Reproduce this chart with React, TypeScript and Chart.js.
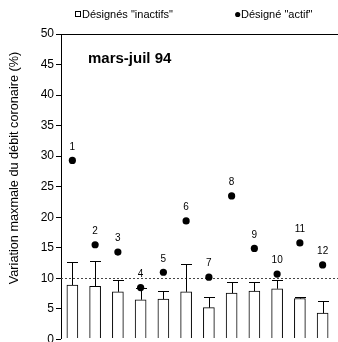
import { useEffect, useRef } from 'react';
import { Chart, registerables } from 'chart.js';

Chart.register(...registerables);

const categories = ['1', '2', '3', '4', '5', '6', '7', '8', '9', '10', '11', '12'];
const inactifMeans = [8.9, 8.7, 7.8, 6.5, 6.6, 7.8, 5.2, 7.6, 7.9, 8.3, 6.7, 4.3];
const inactifErrors = [3.8, 4.2, 2.0, 1.9, 1.3, 4.6, 1.7, 1.8, 1.5, 1.5, 0.2, 2.0];
const actifValues = [29.3, 15.5, 14.3, 8.5, 11.0, 19.4, 10.2, 23.5, 14.9, 10.7, 15.8, 12.2];
const referenceLevel = 10.1;
const yTickValues = [0, 5, 10, 15, 20, 25, 30, 35, 40, 45, 50];
const legendLabels = ['Désignés "inactifs"', 'Désigné "actif"'];
const periodTitle = 'mars-juil 94';
const yAxisTitle = 'Variation maxmale du débit coronaire (%)';

const FONT = "Arial, 'Liberation Sans', sans-serif";

const overlayPlugin = {
  id: 'overlay',
  beforeDatasetsDraw(chart: any) {
    const { ctx, chartArea, scales } = chart;
    const py = Math.round(scales.y.getPixelForValue(referenceLevel)) + 0.5;
    ctx.save();
    ctx.strokeStyle = '#444';
    ctx.lineWidth = 1;
    ctx.setLineDash([2, 2]);
    ctx.beginPath();
    ctx.moveTo(chartArea.left, py);
    ctx.lineTo(chart.width, py);
    ctx.stroke();
    ctx.restore();
  },
  afterDatasetDraw(chart: any, args: any) {
    if (args.index !== 0) return;
    const { ctx, scales } = chart;
    const meta = chart.getDatasetMeta(0);
    ctx.save();
    ctx.strokeStyle = '#000';
    ctx.lineWidth = 1;
    meta.data.forEach((bar: any, i: number) => {
      const x = Math.round(bar.x) + 0.5;
      const top = scales.y.getPixelForValue(inactifMeans[i]);
      const end = Math.round(scales.y.getPixelForValue(inactifMeans[i] + inactifErrors[i])) + 0.5;
      ctx.beginPath();
      ctx.moveTo(x, top);
      ctx.lineTo(x, end);
      ctx.moveTo(x - 5.5, end);
      ctx.lineTo(x + 5.5, end);
      ctx.stroke();
    });
    ctx.restore();
  },
  afterDatasetsDraw(chart: any) {
    const { ctx } = chart;
    const meta = chart.getDatasetMeta(1);
    ctx.save();
    ctx.fillStyle = '#000';
    ctx.font = `10px ${FONT}`;
    ctx.textAlign = 'center';
    ctx.textBaseline = 'middle';
    meta.data.forEach((pt: any, i: number) => {
      ctx.fillText(categories[i], pt.x, pt.y - 13.5);
    });
    ctx.restore();
  },
  afterDraw(chart: any) {
    const { ctx, chartArea } = chart;
    ctx.save();
    // top frame line
    ctx.strokeStyle = '#000';
    ctx.lineWidth = 1;
    ctx.beginPath();
    ctx.moveTo(chartArea.left, chartArea.top + 0.5);
    ctx.lineTo(chart.width, chartArea.top + 0.5);
    ctx.stroke();

    // legend
    ctx.fillStyle = '#000';
    ctx.font = `11px ${FONT}`;
    ctx.textBaseline = 'middle';
    ctx.textAlign = 'left';
    ctx.strokeRect(75.5, 11.5, 5, 5);
    ctx.fillText(legendLabels[0], 82, 14.5);
    ctx.beginPath();
    ctx.arc(237.7, 14.5, 2.6, 0, Math.PI * 2);
    ctx.fill();
    ctx.fillText(legendLabels[1], 241, 14.5);

    // period title
    ctx.font = `bold 15px ${FONT}`;
    ctx.textBaseline = 'alphabetic';
    ctx.fillText(periodTitle, 88, 63);

    // y axis title
    ctx.font = `12.7px ${FONT}`;
    ctx.textAlign = 'center';
    ctx.textBaseline = 'middle';
    ctx.translate(14.5, 168);
    ctx.rotate(-Math.PI / 2);
    ctx.fillText(yAxisTitle, 0, 0);
    ctx.restore();
  },
};

export default function App() {
  const canvasRef = useRef<HTMLCanvasElement | null>(null);

  useEffect(() => {
    document.body.style.margin = '0';
    const canvas = canvasRef.current;
    if (!canvas) return;
    const chart = new Chart(canvas, {
      type: 'bar',
      data: {
        labels: categories,
        datasets: [
          {
            type: 'bar',
            label: legendLabels[0],
            data: inactifMeans,
            backgroundColor: '#ffffff',
            borderColor: '#000000',
            borderWidth: 1,
            barThickness: 11,
            order: 1,
          },
          {
            type: 'line',
            label: legendLabels[1],
            data: actifValues,
            showLine: false,
            pointRadius: 3.6,
            pointBackgroundColor: '#000000',
            pointBorderColor: '#000000',
            pointBorderWidth: 0,
            order: 0,
          },
        ],
      } as any,
      options: {
        animation: false,
        responsive: false,
        devicePixelRatio: 1,
        layout: { padding: { top: 34, left: 0, right: 0, bottom: 0 } },
        plugins: {
          legend: { display: false },
          tooltip: { enabled: false },
        },
        scales: {
          x: { display: false },
          y: {
            min: 0.24,
            max: 50,
            afterBuildTicks: (s: any) => {
              s.ticks = yTickValues.map((v) => ({ value: v }));
            },
            afterFit: (s: any) => {
              s.width = 61;
              s.paddingTop = 0;
              s.paddingBottom = 0;
              s.paddingLeft = 0;
              s.paddingRight = 0;
            },
            ticks: {
              color: '#000',
              font: { family: FONT, size: 12 },
              padding: 2,
            },
            grid: { drawOnChartArea: false, tickLength: 5, color: '#000' },
            border: { color: '#000', width: 1 },
          },
        },
      } as any,
      plugins: [overlayPlugin],
    });
    return () => chart.destroy();
  }, []);

  return <canvas ref={canvasRef} width={338} height={342} style={{ display: 'block' }} />;
}
